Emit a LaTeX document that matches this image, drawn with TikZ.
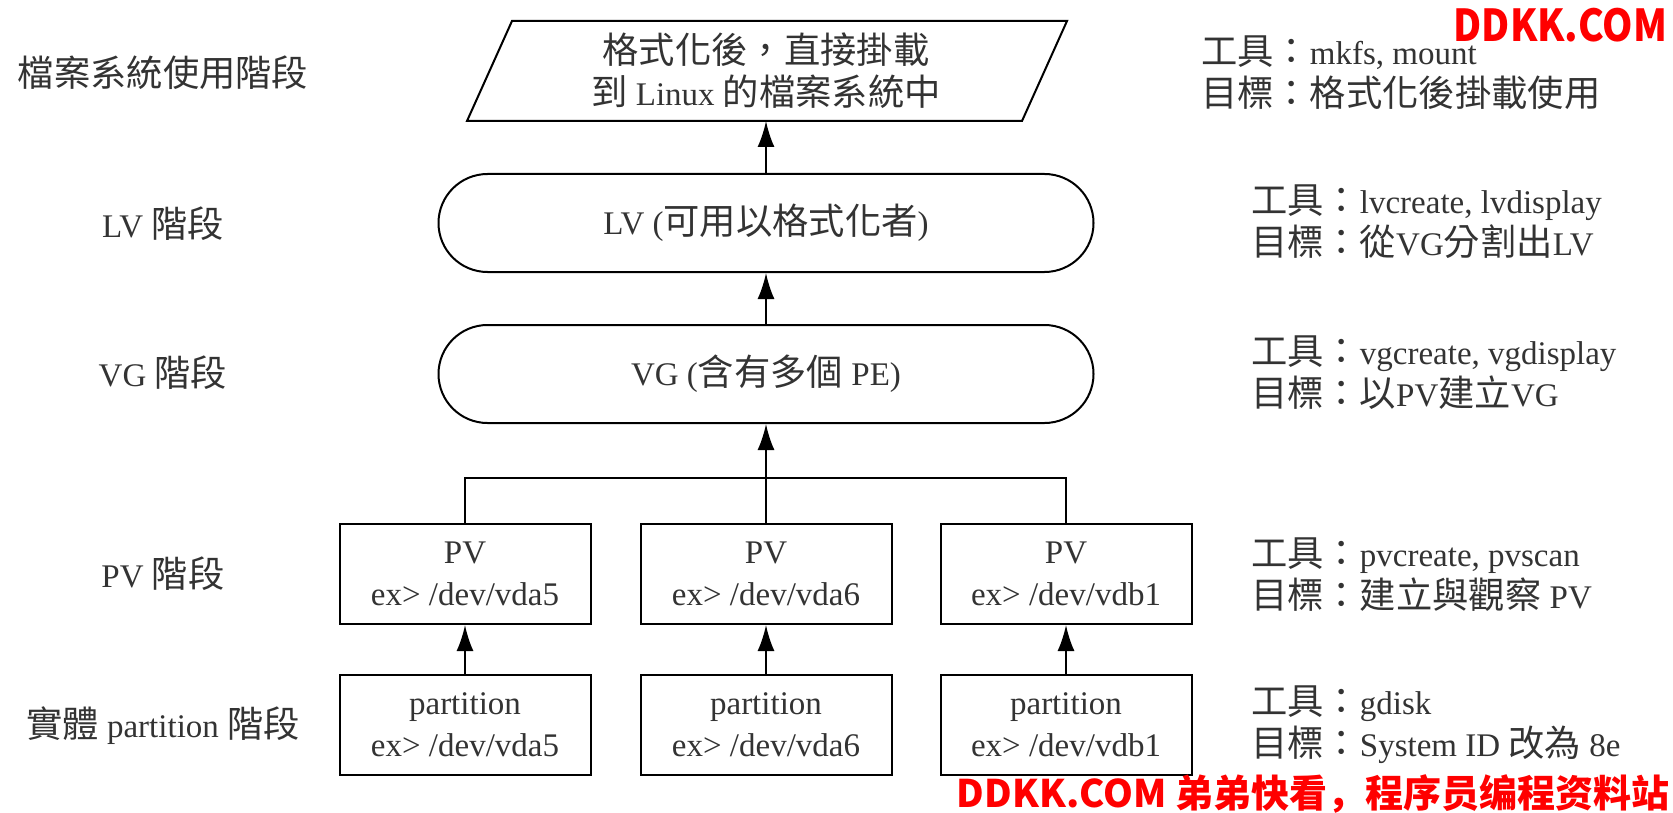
\documentclass[tikz,border=0pt]{standalone}
\usepackage{fontspec}
\setmainfont{Liberation Serif}
\newfontfamily\cjk{Noto Sans CJK TC}[Scale=1.1]
\newfontfamily\wmfont{Noto Sans CJK SC}
\usetikzlibrary{arrows.meta}
\newcommand\zh[1]{{\cjk #1}}
\begin{document}
\begin{tikzpicture}[x=1pt,y=-1pt, line width=2pt,
  every node/.style={font=\fontsize{33}{42}\selectfont, text=black!80, align=center, inner sep=0pt},
  box/.style={draw=black, minimum width=251pt, minimum height=100pt},
  pill/.style={draw=black, rounded corners=49pt, minimum width=655pt, minimum height=98pt},
  arr/.style={-{Latex[length=26pt,width=17pt]}},
  info/.style={anchor=west, align=left},
  wm/.style={text=red, font=\wmfont\bfseries\fontsize{38}{38}\selectfont}]
\useasboundingbox (0,0) rectangle (1673,813);
% top parallelogram
\draw (512,21) -- (1067,21) -- (1022,121) -- (467,121) -- cycle;
\node (fs) at (766,71) {\zh{格式化後，直接掛載}\\\zh{到} Linux \zh{的檔案系統中}};
\coordinate (fsb) at (766,121);
% LV, VG
\node[pill] (lv) at (766,223) {LV (\zh{可用以格式化者})};
\node[pill] (vg) at (766,374) {VG (\zh{含有多個} PE)};
% PV
\node[box] (pv1) at (465,574) {PV\\ex> /dev/vda5};
\node[box] (pv2) at (766,574) {PV\\ex> /dev/vda6};
\node[box] (pv3) at (1066,574) {PV\\ex> /dev/vdb1};
% partitions
\node[box] (pa1) at (465,725) {partition\\ex> /dev/vda5};
\node[box] (pa2) at (766,725) {partition\\ex> /dev/vda6};
\node[box] (pa3) at (1066,725) {partition\\ex> /dev/vdb1};
% connectors
\draw[arr] (lv.north) -- (fsb);
\draw[arr] (vg.north) -- (lv.south);
\draw (pv1.north) -- ++(0,-45) -| (pv3.north);
\draw[arr] (pv2.north) -- (vg.south);
\draw[arr] (pa1.north) -- (pv1.south);
\draw[arr] (pa2.north) -- (pv2.south);
\draw[arr] (pa3.north) -- (pv3.south);
% stage labels
\node (s1) at (163,73) {\zh{檔案系統使用階段}};
\node (s2) at (163,224) {LV \zh{階段}};
\node (s3) at (163,373) {VG \zh{階段}};
\node (s4) at (163,574) {PV \zh{階段}};
\node (s5) at (163,726) {\zh{實體} partition \zh{階段}};
% info
\node[info] (t1) at (1200,73) {\zh{工具：}mkfs, mount\\\zh{目標：格式化後掛載使用}};
\node[info] (t2) at (1250,222) {\zh{工具：}lvcreate, lvdisplay\\\zh{目標：從}VG\zh{分割出}LV};
\node[info] (t3) at (1250,373) {\zh{工具：}vgcreate, vgdisplay\\\zh{目標：以}PV\zh{建立}VG};
\node[info] (t4) at (1250,575) {\zh{工具：}pvcreate, pvscan\\\zh{目標：建立與觀察} PV};
\node[info] (t5) at (1250,725) {\zh{工具：}gdisk\\\zh{目標：}System ID \zh{改為} 8e};
% watermarks
\node[wm, anchor=east, font=\wmfont\bfseries\fontsize{44}{44}\selectfont, xscale=0.88, transform shape] (w1) at (1668,25) {DDKK.COM};
\node[wm, anchor=east] (w2) at (1670,794) {DDKK.COM 弟弟快看，程序员编程资料站};
\end{tikzpicture}
\end{document}
